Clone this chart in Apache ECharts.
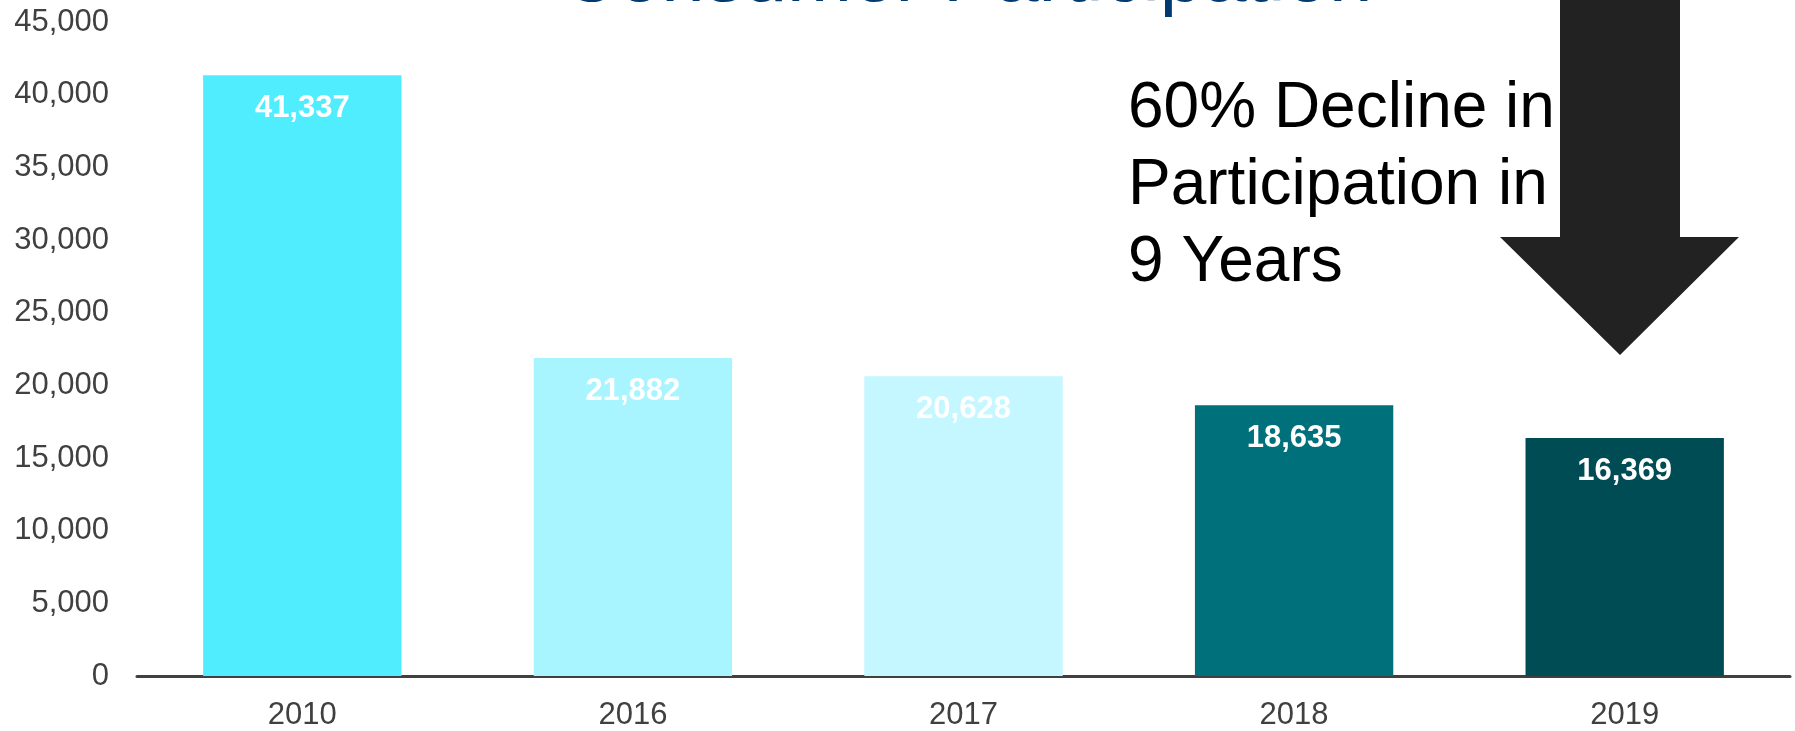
<!DOCTYPE html>
<html>
<head>
<meta charset="utf-8">
<script src="https://cdn.jsdelivr.net/npm/echarts@6/dist/echarts.min.js"></script>
<style>
  html, body { margin: 0; padding: 0; background: #fff; }
  #chart { width: 1795px; height: 731px; }
</style>
</head>
<body>
<div id="chart"></div>
<script>
// данные графика
const years = ['2010', '2016', '2017', '2018', '2019']
const participants = [41337, 21882, 20628, 18635, 16369]
const barColors = ['#50edff', '#a8f5ff', '#c4f7ff', '#00717b', '#004c55']
const yTicks = { min: 0, max: 45000, interval: 5000 }
const titleText = 'Consumer Participation'
const noteText = '60% Decline in\nParticipation in\n9 Years'

const chart = echarts.init(document.getElementById('chart'))
const font = 'Liberation Sans, Arial, sans-serif'

const option = {
  animation: false,
  grid: { left: 137, right: 5, top: 22, bottom: 53 },
  xAxis: {
    type: 'category',
    data: years,
    axisLine: { lineStyle: { color: '#404040', width: 3 } },
    axisTick: { show: false },
    axisLabel: { color: '#404040', fontSize: 31, fontFamily: font, margin: 24 }
  },
  yAxis: {
    type: 'value',
    min: yTicks.min,
    max: yTicks.max,
    interval: yTicks.interval,
    axisLine: { show: false },
    axisTick: { show: false },
    splitLine: { show: false },
    axisLabel: {
      color: '#404040',
      fontSize: 31,
      fontFamily: font,
      margin: 28,
      formatter: v => v.toLocaleString('en-US')
    }
  },
  series: [{
    type: 'bar',
    barCategoryGap: '40%',
    data: participants.map((v, i) => ({ value: v, itemStyle: { color: barColors[i] } })),
    label: {
      show: true,
      position: 'insideTop',
      distance: 18,
      color: '#fff',
      fontSize: 31,
      fontWeight: 'bold',
      fontFamily: font,
      formatter: p => p.value.toLocaleString('en-US')
    }
  }],
  graphic: [
    {
      // заголовок почти целиком обрезан сверху
      type: 'text',
      x: 967,
      y: -21,
      style: {
        text: titleText,
        fill: '#003a70',
        font: '78px ' + font,
        textAlign: 'center',
        textVerticalAlign: 'middle'
      }
    },
    {
      type: 'polygon',
      shape: {
        points: [[1560, 0], [1680, 0], [1680, 237], [1739, 237], [1620, 355], [1500, 237], [1560, 237]]
      },
      style: { fill: '#222222' }
    },
    {
      type: 'text',
      x: 1128,
      y: 71,
      style: {
        text: noteText,
        fill: '#000',
        font: '64px ' + font,
        lineHeight: 77,
        textAlign: 'left',
        textVerticalAlign: 'top'
      }
    }
  ]
}

chart.setOption(option)
</script>
</body>
</html>
